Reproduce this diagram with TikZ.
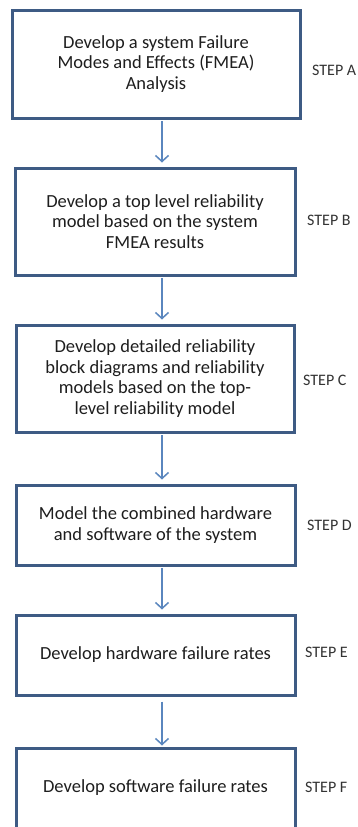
\documentclass[tikz,border=0pt]{standalone}
\usepackage{fontspec}
\setmainfont{Carlito}
\usetikzlibrary{arrows.meta}
\definecolor{flowLine}{HTML}{3E5B84}
\definecolor{flowArrow}{HTML}{5A86BE}
\definecolor{flowText}{HTML}{1E1E1E}
\definecolor{flowStep}{HTML}{333333}
\tikzset{
  flowfig/.style={
    every node/.append style={font=\fontsize{18.5}{20.5}\selectfont, text=flowText},
    >={Straight Barb[length=6pt, width=13pt]},
  },
  stepbox/.style={
    draw=flowLine, line width=3pt, fill=white, align=center,
    inner sep=4pt, minimum height=80pt,
  },
  steplabel/.style={anchor=west, inner sep=0pt, text=flowStep, font=\fontsize{16}{18}\selectfont},
  flow/.style={draw=flowArrow, line width=1.5pt, ->, shorten <=1.5pt, shorten >=4pt},
}

\begin{document}
\begin{tikzpicture}[flowfig, x=1pt, y=-1pt]
  \useasboundingbox (0,0) rectangle (357,827);
  \fill[white] (0,0) rectangle (357,827);
  \clip (0,0) rectangle (357,827);
  \node[stepbox, minimum width=288pt, minimum height=108pt] (StepA) at (156,64) {Develop a system Failure\\Modes and Effects (FMEA)\\Analysis};
  \node[stepbox, minimum width=280pt, minimum height=107pt] (StepB) at (155,221.5) {Develop a top level reliability\\model based on the system\\FMEA results};
  \node[stepbox, minimum width=278pt, minimum height=107pt] (StepC) at (155,378.5) {Develop detailed reliability\\block diagrams and reliability\\models based on the top-\\level reliability model};
  \node[stepbox, minimum width=279pt] (StepD) at (155.5,525) {Model the combined hardware\\and software of the system};
  \node[stepbox, minimum width=279pt] (StepE) at (155.5,655) {Develop hardware failure rates};
  \node[stepbox, minimum width=279pt] (StepF) at (155.5,788) {Develop software failure rates};
  \node[steplabel] (LabelA) at (312,70) {STEP A};
  \node[steplabel] (LabelB) at (307,220) {STEP B};
  \node[steplabel] (LabelC) at (303,380) {STEP C};
  \node[steplabel] (LabelD) at (307,525) {STEP D};
  \node[steplabel] (LabelE) at (305,652) {STEP E};
  \node[steplabel] (LabelF) at (305,787) {STEP F};
  \coordinate (spine) at (162,0);
  \draw[flow] (StepA.south -| spine) -- (StepB.north -| spine);
  \draw[flow] (StepB.south -| spine) -- (StepC.north -| spine);
  \draw[flow] (StepC.south -| spine) -- (StepD.north -| spine);
  \draw[flow] (StepD.south -| spine) -- (StepE.north -| spine);
  \draw[flow, shorten <=5pt, shorten >=1pt] (StepE.south -| spine) -- (StepF.north -| spine);
\end{tikzpicture}
\end{document}
